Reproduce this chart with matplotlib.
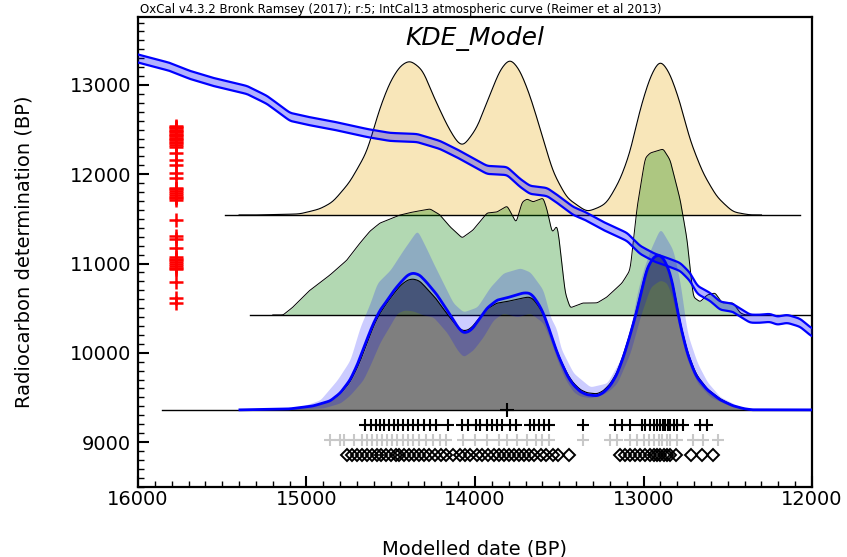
import numpy as np
import matplotlib.pyplot as plt

# IntCal13 curve: cal BP -> 14C BP
curve_cal = [16000, 15988, 15810, 15691, 15531, 15353, 15234, 15098, 14961, 14801,
             14641, 14504, 14344, 14208, 14089, 13929, 13810, 13733, 13674, 13573,
             13496, 13418, 13335, 13217, 13098, 13021, 12932, 12861, 12783, 12724,
             12682, 12605, 12546, 12469, 12415, 12368, 12309, 12249, 12208, 12148,
             12071, 12000]
curve_c14 = [13300, 13291, 13202, 13112, 13022, 12944, 12832, 12642, 12586, 12530,
             12462, 12418, 12406, 12328, 12216, 12048, 12037, 11903, 11824, 11802,
             11701, 11589, 11522, 11399, 11298, 11152, 11063, 11018, 10962, 10850,
             10704, 10626, 10526, 10504, 10437, 10381, 10381, 10392, 10358, 10381,
             10336, 10224]
curve_err = 45

# radiocarbon determinations (red crosses)
c14_dates = [12545, 12530, 12515, 12500, 12485, 12470, 12455, 12440, 12425, 12410,
             12395, 12380, 12365, 12350, 12330, 12310, 12240, 12160, 12105, 12015,
             11960, 11850, 11830, 11810, 11790, 11770, 11750, 11730, 11712, 11490,
             11310, 11275, 11175, 11075, 11055, 11035, 11015, 10995, 10975, 10955,
             10935, 10795, 10615, 10560]

# top distribution (unmodelled KDE), relative heights
top_cal = [15276, 15039, 14920, 14843, 14742, 14641, 14564, 14504, 14445, 14386,
           14309, 14249, 14166, 14107, 14071, 13988, 13911, 13852, 13792, 13733,
           13674, 13614, 13537, 13454, 13335, 13258, 13217, 13139, 13080, 13021,
           12961, 12902, 12843, 12783, 12724, 12647, 12564, 12469, 12368]
top_h = [0, 1, 6, 13, 33, 63, 107, 133, 149, 155,
         145, 120, 90, 73, 68, 87, 120, 145, 157, 145,
         120, 87, 43, 17, 3, 8, 12, 35, 62, 105,
         138, 156, 142, 113, 75, 42, 18, 3, 0]

# middle distribution
mid_cal = [15139, 15080, 14979, 14861, 14760, 14683, 14623, 14564, 14445, 14368,
           14267, 14208, 14148, 14077, 14012, 13929, 13869, 13810, 13774, 13757,
           13721, 13691, 13656, 13596, 13573, 13543, 13513, 13496, 13466, 13436,
           13359, 13276, 13217, 13128, 13080, 13039, 12991, 12961, 12884, 12843,
           12783, 12742, 12706, 12665, 12623, 12576, 12534, 12469, 12427, 12398]
mid_h = [0, 8, 25, 40, 55, 72, 84, 92, 100, 103,
         106, 100, 88, 77, 85, 102, 103, 109, 98, 92,
         113, 116, 113, 117, 105, 82, 90, 68, 22, 7,
         12, 12, 18, 32, 45, 108, 157, 162, 166, 155,
         115, 75, 18, 13, 20, 22, 12, 12, 2, 0]

# KDE model: mean (blue) and black outline
kde_cal = [15395, 15100, 14960, 14860, 14800, 14742, 14700, 14665, 14630, 14600,
           14564, 14520, 14480, 14440, 14400, 14368, 14330, 14290, 14226, 14180,
           14148, 14100, 14071, 14040, 14012, 13970, 13929, 13869, 13792, 13715,
           13680, 13656, 13620, 13596, 13555, 13520, 13496, 13450, 13418, 13375,
           13335, 13276, 13240, 13199, 13160, 13122, 13080, 13039, 13000, 12979,
           12940, 12910, 12884, 12850, 12825, 12800, 12783, 12742, 12700, 12682,
           12623, 12546, 12469, 12400, 12350, 12000]
kde_mean = [0, 1, 4, 9, 17, 30, 45, 60, 76, 88,
            100, 110, 120, 128, 135, 137, 135, 128, 115, 103,
            95, 82, 77, 78, 82, 92, 102, 110, 113, 117,
            117, 114, 105, 97, 78, 60, 50, 33, 25, 18,
            15, 14, 17, 24, 35, 52, 75, 100, 128, 142,
            153, 155, 152, 140, 124, 100, 85, 57, 38, 32,
            20, 10, 4, 1, 0, 0]
kde_line = [0, 1, 4, 9, 16, 28, 42, 56, 72, 85,
            97, 108, 117, 125, 130, 131, 129, 122, 110, 99,
            92, 82, 79, 80, 84, 93, 101, 107, 109, 112,
            113, 111, 103, 96, 78, 61, 51, 35, 27, 20,
            17, 16, 19, 26, 37, 54, 77, 102, 130, 143,
            153, 155, 152, 140, 125, 102, 87, 59, 40, 34,
            21, 11, 4, 1, 0, 0]

# KDE variability band
lo_cal = [15200, 14900, 14800, 14742, 14665, 14623, 14564, 14504, 14463, 14420,
          14368, 14309, 14249, 14166, 14107, 14071, 14012, 13953, 13893, 13834,
          13751, 13674, 13596, 13550, 13513, 13470, 13418, 13380, 13318, 13250,
          13200, 13157, 13080, 13021, 12961, 12902, 12861, 12825, 12783, 12742,
          12682, 12605, 12504, 12400, 12300]
lo_h = [0, 2, 7, 15, 30, 45, 68, 85, 97, 100,
        99, 95, 93, 77, 60, 53, 60, 73, 90, 97,
        93, 97, 87, 68, 50, 32, 18, 14, 12, 15,
        20, 27, 57, 93, 123, 130, 127, 110, 77, 50,
        27, 13, 5, 1, 0]
hi_cal = [15335, 15157, 15039, 14920, 14819, 14742, 14683, 14623, 14582, 14504,
          14427, 14344, 14285, 14249, 14190, 14131, 14071, 13988, 13911, 13834,
          13733, 13674, 13596, 13555, 13513, 13496, 13418, 13318, 13217, 13139,
          13080, 13039, 13003, 12961, 12902, 12825, 12783, 12742, 12682, 12623,
          12546, 12427, 12326]
hi_h = [0, 1, 3, 10, 30, 50, 83, 107, 127, 140,
        160, 180, 160, 147, 127, 107, 98, 103, 123, 137,
        142, 138, 120, 93, 80, 63, 37, 23, 27, 50,
        80, 117, 140, 160, 182, 160, 127, 77, 47, 28,
        13, 3, 1]

# point estimates below the distributions
modelled = [14650, 14620, 14590, 14565, 14540, 14510, 14480, 14455, 14430, 14400,
            14370, 14340, 14300, 14265, 14230, 14160, 14075, 14040, 13995, 13970,
            13930, 13900, 13870, 13840, 13790, 13755, 13675, 13650, 13620, 13590,
            13560, 13360, 13170, 13125, 13080, 13010, 12990, 12960, 12940, 12920,
            12900, 12885, 12870, 12855, 12840, 12820, 12800, 12765, 12665, 12625]
unmodelled = [14860, 14800, 14780, 14720, 14670, 14640, 14610, 14580, 14550, 14520,
              14490, 14460, 14430, 14400, 14370, 14330, 14290, 14250, 14210, 14170,
              14070, 14000, 13930, 13860, 13810, 13750, 13690, 13640, 13600, 13560,
              13360, 13200, 13160, 13080, 13040, 13000, 12970, 12940, 12910, 12890,
              12860, 12840, 12800, 12705, 12645, 12560]
diamonds = [14760, 14730, 14700, 14670, 14640, 14610, 14580, 14560, 14530, 14500,
            14470, 14450, 14420, 14390, 14360, 14330, 14300, 14270, 14240, 14200,
            14170, 14130, 14090, 14060, 14030, 13990, 13960, 13920, 13890, 13860,
            13830, 13800, 13770, 13740, 13710, 13680, 13650, 13610, 13580, 13540,
            13510, 13440, 13140, 13110, 13080, 13050, 13020, 12990, 12960, 12940,
            12920, 12900, 12880, 12860, 12840, 12810, 12720, 12650, 12590]
mean_date = 13810

# baselines (14C BP)
top_base, mid_base, kde_base = 11544, 10424, 9360
scale = 11.2  # 14C years per unit of relative height


def smooth(xs, ys, lo, hi, width):
    # draw a read-off curve on a fine grid with a light gaussian smoothing
    g = np.linspace(lo, hi, 1200)
    y = np.interp(g, xs[::-1], ys[::-1])
    step = (hi - lo) / 1199
    k = np.arange(-3 * width, 3 * width + step, step)
    k = np.exp(-0.5 * (k / width) ** 2)
    k /= k.sum()
    n = len(k) // 2
    yp = np.concatenate([np.full(n, y[0]), y, np.full(n, y[-1])])
    return g, np.convolve(yp, k, mode='same')[n:n + len(g)]


fig = plt.figure(figsize=(8.47, 5.57), dpi=100)
ax = fig.add_axes([0.1629, 0.1257, 0.7958, 0.8438])

# top distribution
gx, gy = smooth(top_cal, top_h, 12300, 15400, 20)
ax.fill_between(gx, top_base, top_base + gy * scale, color='#f8e6b9', lw=0, zorder=1)
ax.plot(gx, top_base + gy * scale, color='black', lw=0.8, zorder=2)
ax.plot([15484, 12071], [top_base, top_base], color='black', lw=1.0, zorder=2)

# middle distribution
gx, gy = smooth(mid_cal, mid_h, 12350, 15200, 6)
ax.fill_between(gx, mid_base, mid_base + gy * scale, color='green', alpha=0.3, lw=0, zorder=3)
ax.plot(gx, mid_base + gy * scale, color='black', lw=0.7, zorder=4)
ax.plot([15335, 12000], [mid_base, mid_base], color='black', lw=1.0, zorder=4)

# KDE model
gx, gk = smooth(kde_cal, kde_line, 12000, 15395, 10)
ax.fill_between(gx, kde_base, kde_base + gk * scale, color='black', alpha=0.5, lw=0, zorder=5)
_, lo = smooth(lo_cal, lo_h, 12000, 15395, 10)
_, hi = smooth(hi_cal, hi_h, 12000, 15395, 10)
ax.fill_between(gx, kde_base + lo * scale, kde_base + hi * scale,
                color='blue', alpha=0.2, lw=0, zorder=6)
ax.plot(gx, kde_base + gk * scale, color='black', lw=0.8, zorder=7)
ax.plot([15858, 12000], [kde_base, kde_base], color='black', lw=1.0, zorder=7)
_, gm = smooth(kde_cal, kde_mean, 12000, 15395, 10)
ax.plot(gx, kde_base + gm * scale, color='blue', lw=2, zorder=8)
ax.plot([mean_date], [kde_base], marker='+', color='black', ms=10, mew=1.5, zorder=9)

# calibration curve
cx, cy = smooth(curve_cal, curve_c14, 12000, 16000, 12)
ax.fill_between(cx, cy - curve_err, cy + curve_err, color='blue', alpha=0.3, lw=0, zorder=10)
ax.plot(cx, cy - curve_err, color='blue', lw=1.6, zorder=11)
ax.plot(cx, cy + curve_err, color='blue', lw=1.6, zorder=11)

# radiocarbon dates
ax.plot([15775] * len(c14_dates), c14_dates, ls='none', marker='+', color='red',
        ms=10, mew=1.8, zorder=12)

# point estimates
ax.plot(modelled, [9190] * len(modelled), ls='none', marker='+', color='black', ms=8, mew=1.5)
ax.plot(unmodelled, [9022] * len(unmodelled), ls='none', marker='+', color='#c8c8c8', ms=8, mew=1.5)
ax.plot(diamonds, [8854] * len(diamonds), ls='none', marker='D', color='black',
        mfc='none', ms=6.5, mew=1.4)

ax.set_xlim(16000, 12000)
ax.set_ylim(8496, 13762)
ax.set_xticks([16000, 15000, 14000, 13000, 12000])
ax.set_xticks(np.arange(12000, 16001, 100), minor=True)
ax.set_yticks([9000, 10000, 11000, 12000, 13000])
ax.set_yticks(np.arange(8500, 13800, 100), minor=True)
ax.tick_params(which='both', direction='in', top=False, right=False, labelsize=14)
ax.tick_params(which='major', length=8, width=1.5)
ax.tick_params(which='minor', length=4, width=1)
ax.tick_params(axis='y', pad=5)
ax.tick_params(axis='x', pad=2)
for s in ax.spines.values():
    s.set_linewidth(1.6)

ax.set_xlabel('Modelled date (BP)', fontsize=14, labelpad=22)
ax.set_ylabel('Radiocarbon determination (BP)', fontsize=14, labelpad=26)
ax.text(0.5, 0.955, 'KDE_Model', transform=ax.transAxes, ha='center', va='center',
        fontsize=18, style='italic')
fig.text(140 / 847, 1 - 9 / 557, 'OxCal v4.3.2 Bronk Ramsey (2017); r:5; IntCal13 atmospheric curve (Reimer et al 2013)',
         fontsize=8.5, ha='left', va='center')

fig.savefig('out.png', dpi=100)
